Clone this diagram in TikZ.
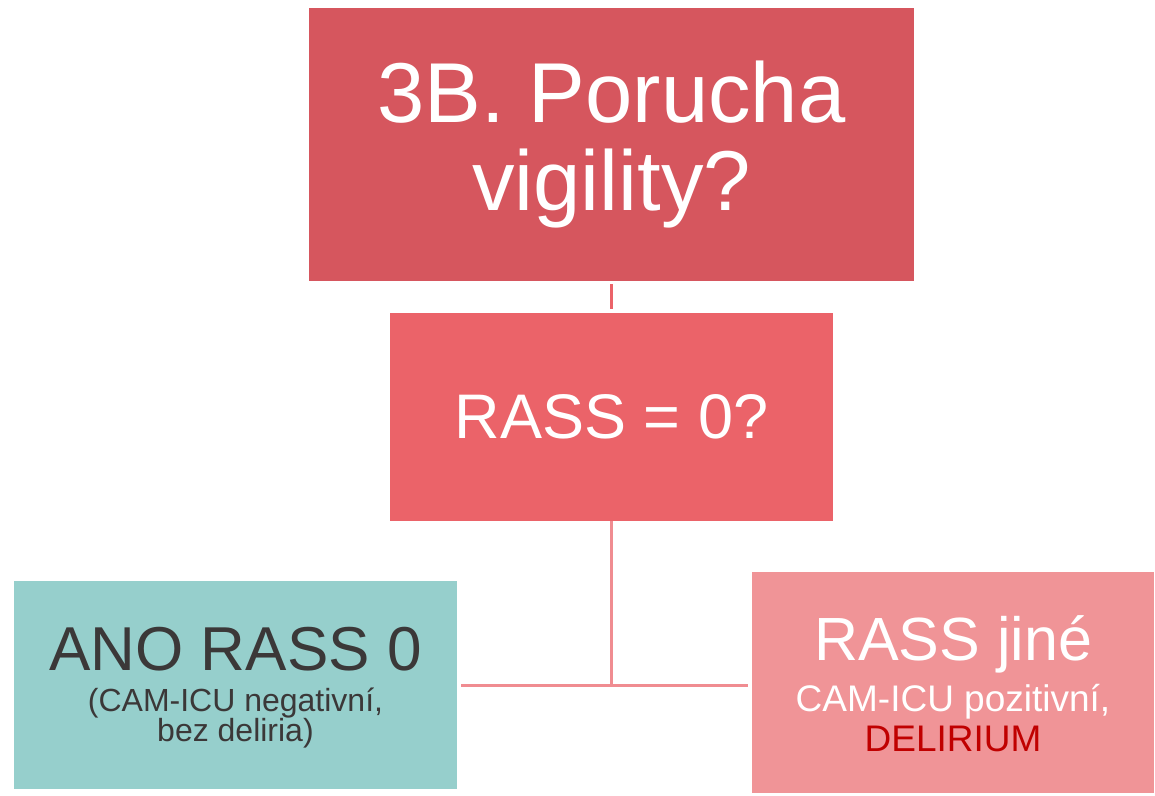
\documentclass[tikz,border=0pt]{standalone}
\usepackage{fontspec}
\setmainfont{Liberation Sans}
\usepackage{xcolor}
\definecolor{vig_dark}{RGB}{214, 86, 94}
\definecolor{vig_mid}{RGB}{235, 99, 105}
\definecolor{vig_pink}{RGB}{240, 148, 151}
\definecolor{vig_teal}{RGB}{150, 207, 204}
\definecolor{vig_text}{RGB}{59, 56, 56}
\definecolor{vig_red}{RGB}{192, 0, 0}
\definecolor{vig_line}{RGB}{240, 140, 145}
\usepackage{tikz}
\usetikzlibrary{positioning, calc}

\tikzset{
  box/.style={rectangle, inner sep=0pt, align=center},
  link/.style={line width=3pt, draw=vig_line}
}

\begin{document}
\begin{tikzpicture}[x=1pt, y=-1pt]
          \useasboundingbox (0,0) rectangle (1155,795);
          % question boxes
          \node[box, fill=vig_dark, text=white, minimum width=605pt, minimum height=273pt,
                font=\fontsize{85}{88}\selectfont] (vig) at (611.5,144.5)
            {3B. Porucha\\vigility?};
          \node[box, fill=vig_mid, text=white, minimum width=443pt, minimum height=208pt,
                font=\fontsize{63}{70}\selectfont] (rass) at (611.5,417)
            {RASS = 0?};
          % answers
          \node[box, fill=vig_teal, text=vig_text, minimum width=443pt, minimum height=208pt,
                font=\fontsize{32}{30}\selectfont] (ano) at (235.5,685)
            {\fontsize{62}{66}\selectfont\rule{0pt}{48pt}ANO RASS 0\\[11pt]
             (CAM-ICU negativní,\\bez deliria)};
          \node[box, fill=vig_pink, text=white, minimum width=402pt, minimum height=221pt,
                font=\fontsize{37}{40}\selectfont] (jine) at (953,682.5)
            {\fontsize{61}{66}\selectfont\rule{0pt}{48pt}RASS jiné\\[11pt]
             CAM-ICU pozitivní,\\\textcolor{vig_red}{DELIRIUM}};
          % connectors
          \draw[link, draw=vig_mid] ([yshift=-3pt]vig.south) -- ([yshift=4pt]rass.north);
          \draw[link] (rass.south) -- (rass.south |- ano.east);
          \draw[link] ([xshift=4pt]ano.east) -- ([xshift=-4pt]ano.east -| jine.west);
        \end{tikzpicture}
\end{document}
